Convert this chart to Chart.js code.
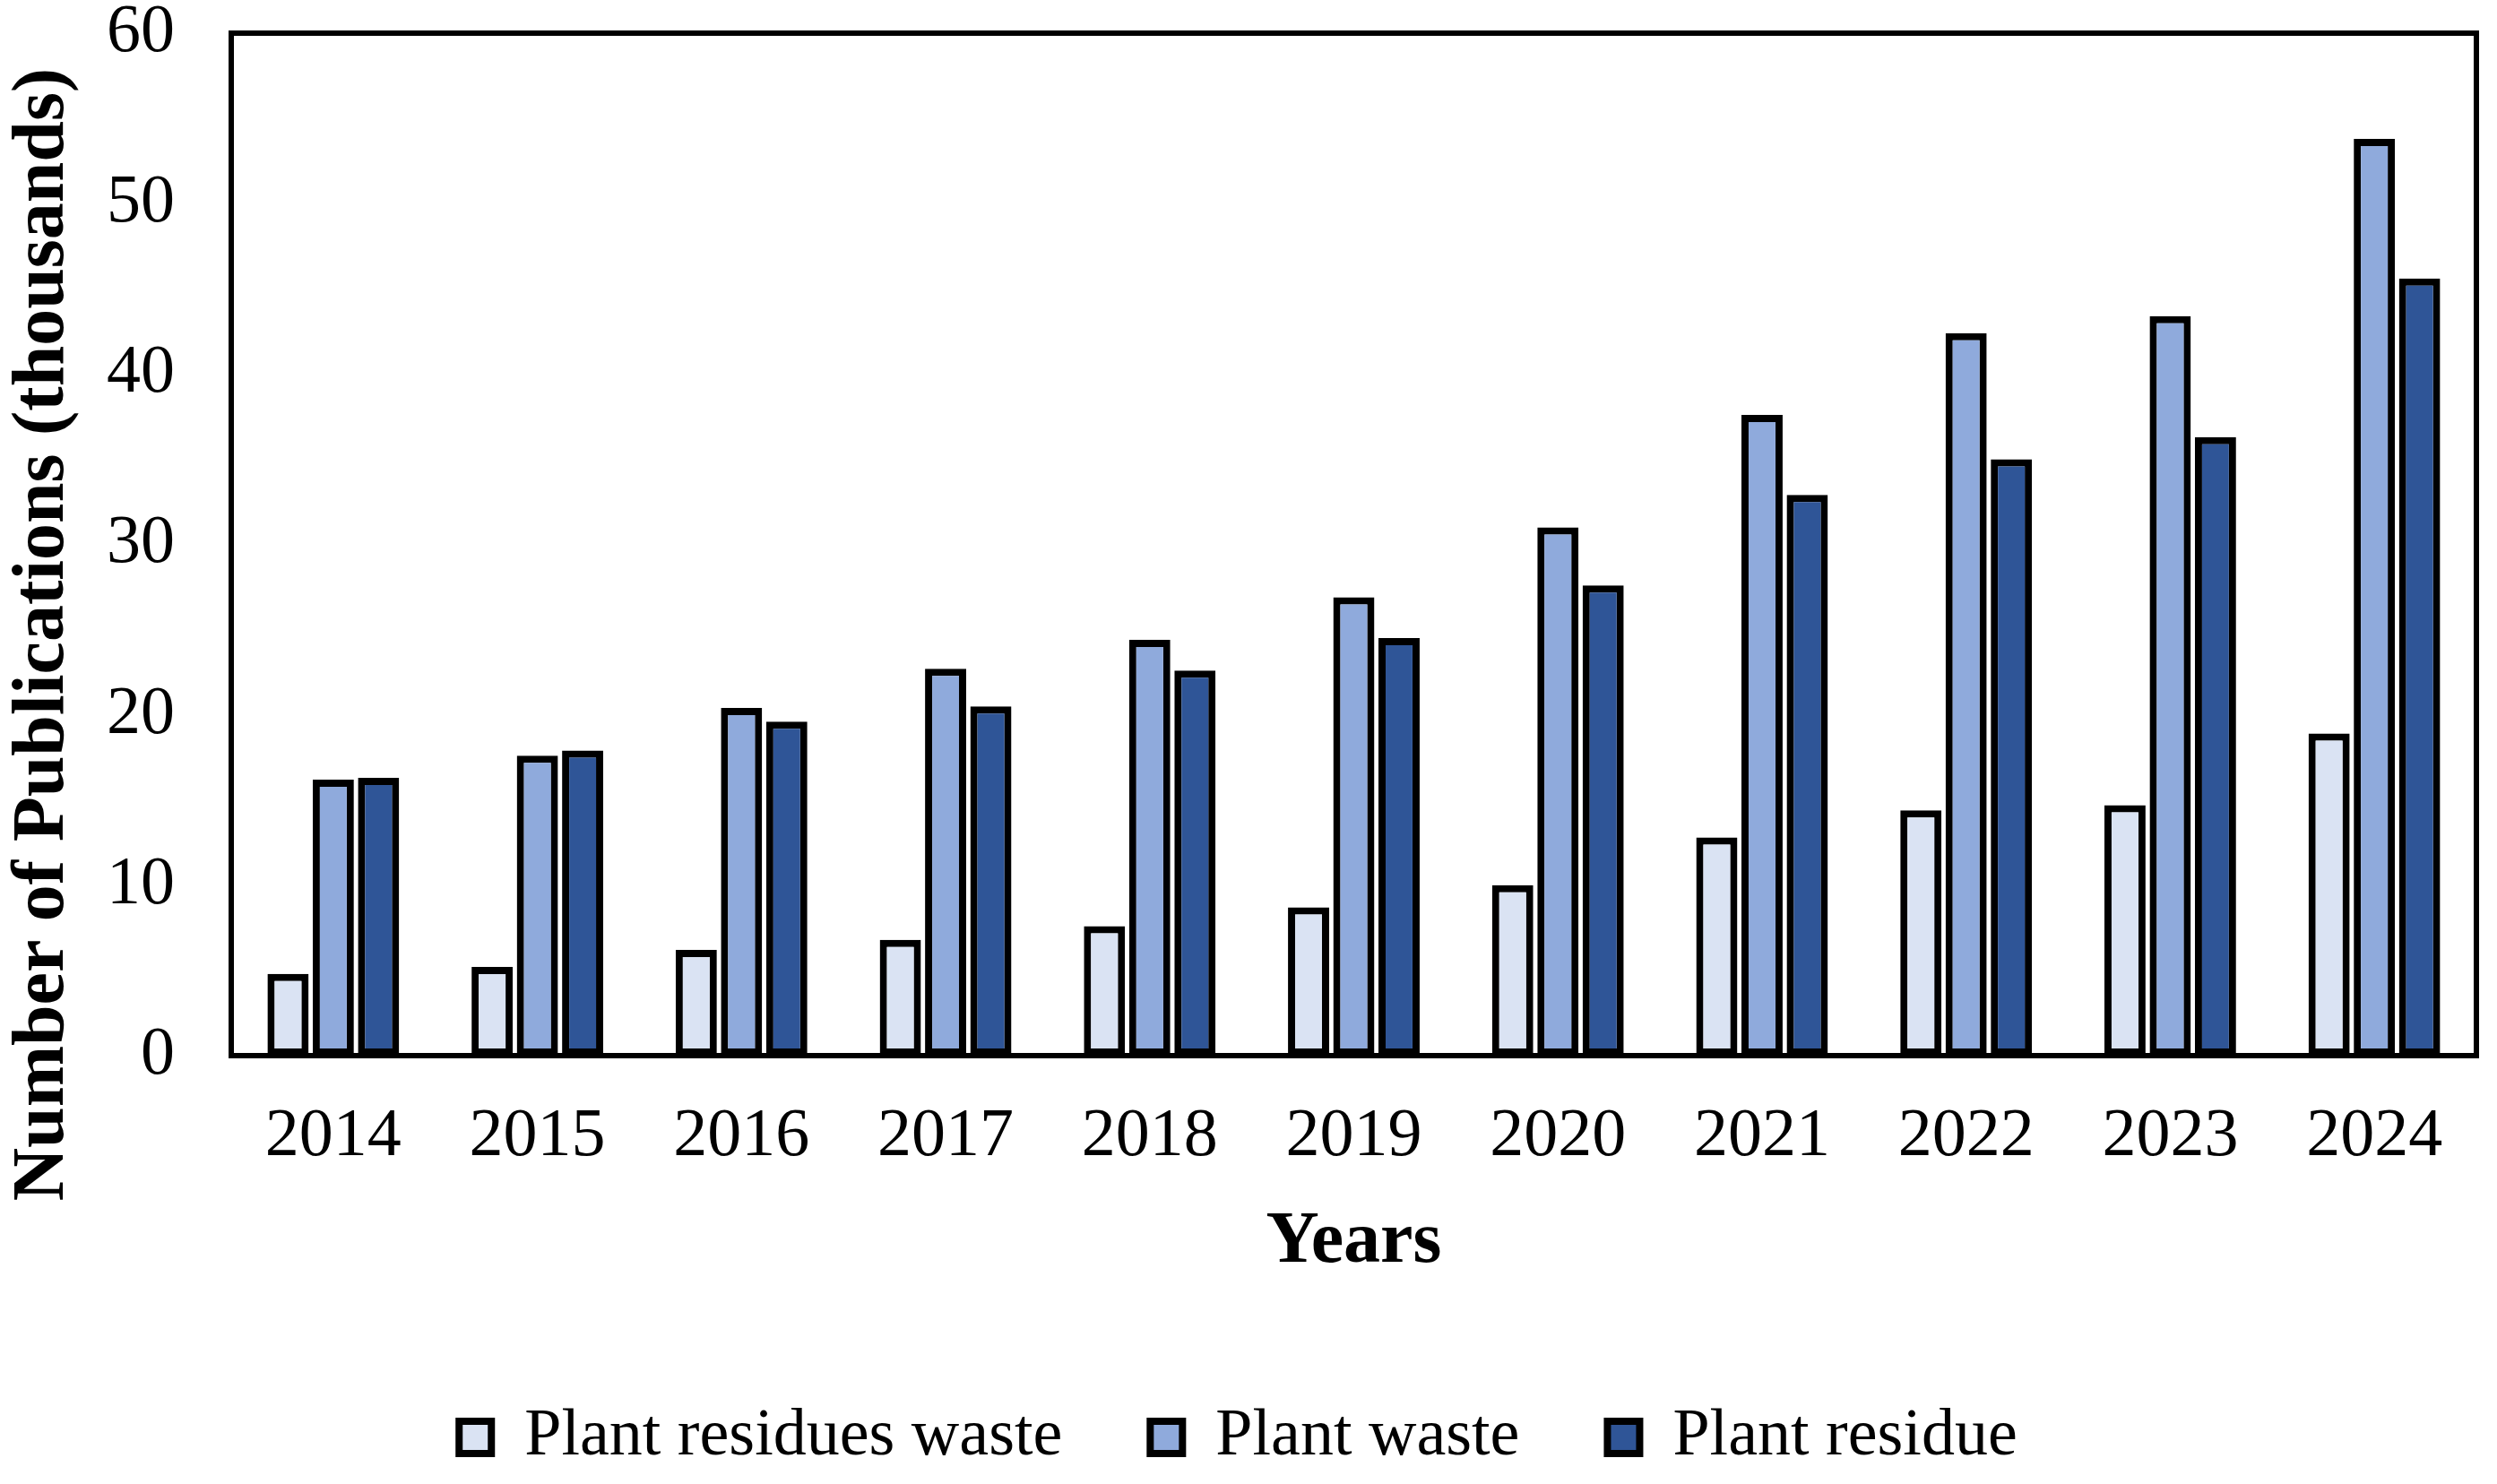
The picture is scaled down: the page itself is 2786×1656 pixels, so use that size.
<!DOCTYPE html>
<html>
<head>
<meta charset="utf-8">
<script src="https://cdn.jsdelivr.net/npm/chart.js@4.4.1/dist/chart.umd.min.js"></script>
<style>
  html, body { margin: 0; padding: 0; background: #fff; }
  #wrap { width: 2786px; height: 1656px; position: relative; }
</style>
</head>
<body>
<div id="wrap"><canvas id="myChart"></canvas></div>
<script>
// data (thousands of publications)
const years = ['2014', '2015', '2016', '2017', '2018', '2019', '2020', '2021', '2022', '2023', '2024'];
const residuesWaste = [4.8, 5.2, 6.2, 6.8, 7.6, 8.7, 10.0, 12.8, 14.4, 14.7, 18.9];
const plantWaste = [16.2, 17.6, 20.4, 22.7, 24.4, 26.9, 31.0, 37.6, 42.4, 43.4, 53.8];
const plantResidue = [16.3, 17.9, 19.6, 20.5, 22.6, 24.5, 27.6, 32.9, 35.0, 36.3, 45.6];
const seriesNames = ['Plant residues waste', 'Plant waste', 'Plant residue'];
const yTitle = 'Number of Publications (thousands)';
const xTitle = 'Years';

const serif = 'Liberation Serif';

function bars(label, values, color) {
    return {
        label: label,
        data: values,
        backgroundColor: color,
        borderColor: '#000',
        borderWidth: 8,
        borderSkipped: false,
        categoryPercentage: 0.665,
        barPercentage: 0.91
    };
}

// box around the plot + rotated y title placed like the original
const frame = {
    id: 'frame',
    afterDraw(chart) {
        const { ctx, chartArea: a } = chart;
        ctx.save();
        ctx.strokeStyle = '#000';
        ctx.lineWidth = 6;
        ctx.strokeRect(a.left, a.top, a.right - a.left, a.bottom - a.top);
        ctx.translate(49, 708);
        ctx.rotate(-Math.PI / 2);
        ctx.font = 'bold 82px "' + serif + '"';
        ctx.fillStyle = '#000';
        ctx.textAlign = 'center';
        ctx.textBaseline = 'middle';
        ctx.fillText(yTitle, 0, 0);
        ctx.restore();
    }
};

const data = {
    labels: years,
    datasets: [
        bars(seriesNames[0], residuesWaste, '#DAE3F3'),
        bars(seriesNames[1], plantWaste, '#8FAADC'),
        bars(seriesNames[2], plantResidue, '#2F5597')
    ]
};

const config = {
    type: 'bar',
    data: data,
    plugins: [frame],
    options: {
        responsive: true,
        maintainAspectRatio: false,
        devicePixelRatio: 1,
        animation: false,
        layout: { padding: { top: 37, right: 23, left: 0, bottom: 5 } },
        plugins: {
            tooltip: { enabled: false },
            legend: {
                position: 'bottom',
                labels: {
                    color: '#000',
                    font: { family: serif, size: 74 },
                    boxWidth: 36,
                    boxHeight: 36,
                    padding: 98
                }
            }
        },
        scales: {
            x: {
                grid: { display: false, drawTicks: false },
                border: { display: true, color: '#000', width: 6 },
                ticks: { color: '#000', font: { family: serif, size: 76 }, padding: 45, maxRotation: 0 },
                title: {
                    display: true,
                    text: xTitle,
                    color: '#000',
                    font: { family: serif, size: 82, weight: 'bold' },
                    padding: { top: 0, bottom: 33 }
                },
                afterFit(s) {
                    s.height = 291;
                    s.paddingLeft = 0;
                    s.paddingRight = 0;
                }
            },
            y: {
                min: 0,
                max: 60,
                grid: { display: false, drawTicks: false },
                border: { display: true, color: '#000', width: 6 },
                ticks: { stepSize: 10, color: '#000', font: { family: serif, size: 76 }, padding: 63 },
                afterFit(s) {
                    s.width = 258;
                    s.paddingTop = 0;
                    s.paddingBottom = 0;
                }
            }
        }
    }
};

const myChart = new Chart(document.getElementById('myChart'), config);
</script>
</body>
</html>
